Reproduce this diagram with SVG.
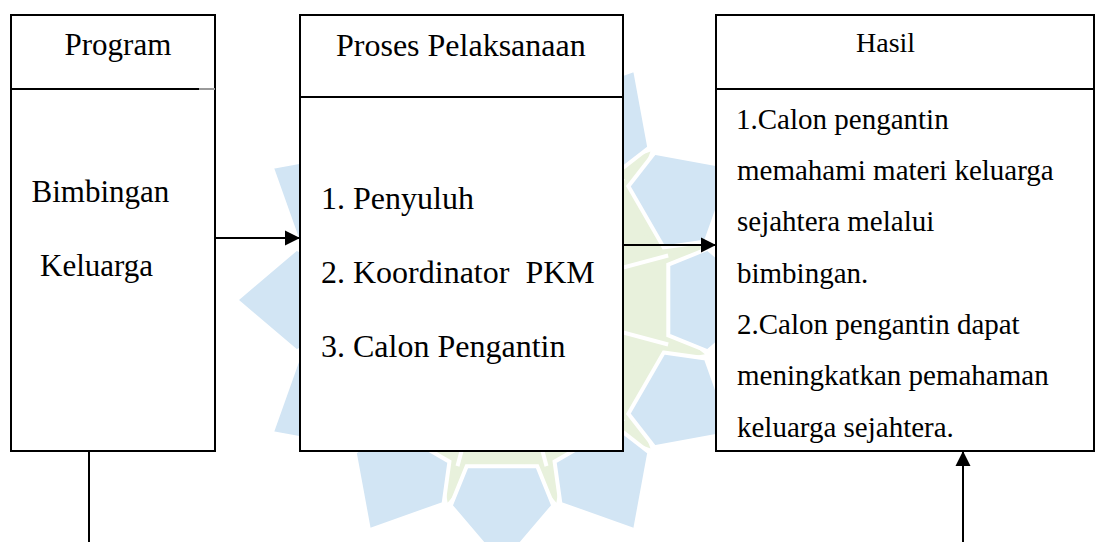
<svg xmlns="http://www.w3.org/2000/svg" xmlns:xlink="http://www.w3.org/1999/xlink" width="1096" height="542" viewBox="0 0 1096 542">
  <style>
    .box { fill: #ffffff; stroke: #000000; stroke-width: 2; }
    .div { stroke: #000000; stroke-width: 2; }
    .conn { stroke: #000000; stroke-width: 2; fill: none; }
    .petal { fill: #d2e5f4; stroke: #ffffff; stroke-width: 4; }
    .gpiece { fill: #e8f1dc; }
    .gline { stroke: #ffffff; stroke-width: 4; }
  </style>
  <defs>
    <marker id="arrow" markerUnits="userSpaceOnUse" markerWidth="16" markerHeight="16" viewBox="0 0 16 16" refX="15" refY="8" orient="auto">
      <path d="M0,0.5 L15,8 L0,15.5 Z" fill="#000000"/>
    </marker>
    <path id="petal" d="M166.3,-35.3 L205.7,-51.3 L266,0 L205.7,51.3 L166.3,35.3 Z"/>
    <path id="gkite" d="M140,-32 L210,0 L140,32 Z"/>
  </defs>

  <rect x="0" y="0" width="1096" height="542" fill="#ffffff"/>

  <!-- faint background watermark -->
  <g id="watermark" transform="translate(502 300)">
    <circle cx="0" cy="0" r="172" class="gpiece"/>
    <use xlink:href="#gkite" class="gpiece" transform="rotate(15)"/>
    <use xlink:href="#gkite" class="gpiece" transform="rotate(45)"/>
    <use xlink:href="#gkite" class="gpiece" transform="rotate(75)"/>
    <use xlink:href="#gkite" class="gpiece" transform="rotate(105)"/>
    <use xlink:href="#gkite" class="gpiece" transform="rotate(135)"/>
    <use xlink:href="#gkite" class="gpiece" transform="rotate(165)"/>
    <use xlink:href="#gkite" class="gpiece" transform="rotate(195)"/>
    <use xlink:href="#gkite" class="gpiece" transform="rotate(225)"/>
    <use xlink:href="#gkite" class="gpiece" transform="rotate(255)"/>
    <use xlink:href="#gkite" class="gpiece" transform="rotate(285)"/>
    <use xlink:href="#gkite" class="gpiece" transform="rotate(315)"/>
    <use xlink:href="#gkite" class="gpiece" transform="rotate(345)"/>
    <g class="gline">
      <line x1="40" y1="0" x2="172" y2="0" transform="rotate(15)"/>
      <line x1="40" y1="0" x2="172" y2="0" transform="rotate(45)"/>
      <line x1="40" y1="0" x2="172" y2="0" transform="rotate(75)"/>
      <line x1="40" y1="0" x2="172" y2="0" transform="rotate(105)"/>
      <line x1="40" y1="0" x2="172" y2="0" transform="rotate(135)"/>
      <line x1="40" y1="0" x2="172" y2="0" transform="rotate(165)"/>
      <line x1="40" y1="0" x2="172" y2="0" transform="rotate(195)"/>
      <line x1="40" y1="0" x2="172" y2="0" transform="rotate(225)"/>
      <line x1="40" y1="0" x2="172" y2="0" transform="rotate(255)"/>
      <line x1="40" y1="0" x2="172" y2="0" transform="rotate(285)"/>
      <line x1="40" y1="0" x2="172" y2="0" transform="rotate(315)"/>
      <line x1="40" y1="0" x2="172" y2="0" transform="rotate(345)"/>
    </g>
    <use xlink:href="#petal" class="petal" transform="rotate(0)"/>
    <use xlink:href="#petal" class="petal" transform="rotate(30)"/>
    <use xlink:href="#petal" class="petal" transform="rotate(60)"/>
    <use xlink:href="#petal" class="petal" transform="rotate(90)"/>
    <use xlink:href="#petal" class="petal" transform="rotate(120)"/>
    <use xlink:href="#petal" class="petal" transform="rotate(150)"/>
    <use xlink:href="#petal" class="petal" transform="rotate(180)"/>
    <use xlink:href="#petal" class="petal" transform="rotate(210)"/>
    <use xlink:href="#petal" class="petal" transform="rotate(240)"/>
    <use xlink:href="#petal" class="petal" transform="rotate(270)"/>
    <use xlink:href="#petal" class="petal" transform="rotate(300)"/>
    <use xlink:href="#petal" class="petal" transform="rotate(330)"/>
  </g>

  <g font-family="'Liberation Serif', 'Times New Roman', Times, serif" fill="#000000">
  <g id="node-program">
    <rect class="box" x="11" y="15" width="204" height="436"/>
    <line class="div" x1="11" y1="89" x2="199" y2="89"/>
    <line x1="199" y1="89" x2="215" y2="89" stroke="#9a9a9a" stroke-width="2"/>
    <text font-size="31" x="64.5" y="55">Program</text>
    <text font-size="31" x="31.5" y="202">Bimbingan</text>
    <text font-size="31" x="40" y="276">Keluarga</text>
  </g>

  <g id="node-proses">
    <rect class="box" x="300" y="15" width="323" height="436"/>
    <line class="div" x1="300" y1="97" x2="623" y2="97"/>
    <text font-size="32" x="336" y="56">Proses Pelaksanaan</text>
    <text font-size="32" x="321" y="209">1. Penyuluh</text>
    <text font-size="32" x="321" y="283" xml:space="preserve" style="white-space:pre">2. Koordinator  PKM</text>
    <text font-size="32" x="321" y="357">3. Calon Pengantin</text>
  </g>

  <g id="node-hasil">
    <rect class="box" x="716" y="15" width="378" height="436"/>
    <line class="div" x1="716" y1="89" x2="1094" y2="89"/>
    <text font-size="28" x="856" y="52">Hasil</text>
    <text font-size="29" x="736" y="129">1.Calon pengantin</text>
    <text font-size="29" x="737" y="180">memahami materi keluarga</text>
    <text font-size="29" x="737" y="231">sejahtera melalui</text>
    <text font-size="29" x="737" y="283">bimbingan.</text>
    <text font-size="29" x="737" y="334">2.Calon pengantin dapat</text>
    <text font-size="29" x="737" y="385">meningkatkan pemahaman</text>
    <text font-size="29" x="737" y="437">keluarga sejahtera.</text>
  </g>
  </g>

  <g id="connectors">
    <line class="conn" x1="215" y1="238" x2="300" y2="238" marker-end="url(#arrow)"/>
    <line class="conn" x1="623" y1="245" x2="716" y2="245" marker-end="url(#arrow)"/>
    <line class="conn" x1="89" y1="451" x2="89" y2="542"/>
    <line class="conn" x1="963" y1="542" x2="963" y2="451" marker-end="url(#arrow)"/>
  </g>
</svg>
